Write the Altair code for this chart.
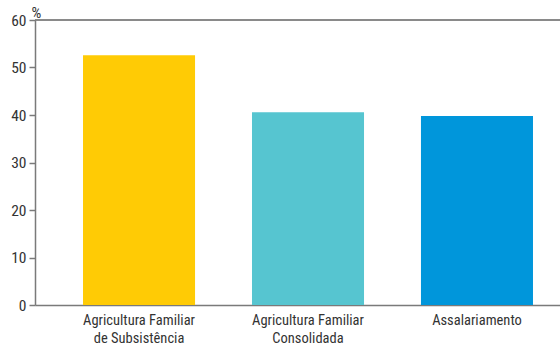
import altair as alt
import pandas as pd

categories = ["Agricultura Familiar|de Subsistência", "Agricultura Familiar|Consolidada", "Assalariamento"]
values = [52.6, 40.6, 39.8]
colors = ["#FFCB05", "#56C5D0", "#0096DB"]

df = pd.DataFrame({"cat": categories, "val": values, "color": colors})

FONT = "Roboto Condensed, Liberation Sans Narrow, Arial Narrow, Roboto"
GRAY = "#7a7a7a"

bars = alt.Chart(df).mark_bar().encode(
    x=alt.X("cat:N", sort=categories,
            scale=alt.Scale(paddingInner=0.337, paddingOuter=0.222, align=0.64),
            axis=alt.Axis(title=None, labelAngle=0, ticks=False,
                          labelExpr="split(datum.value, '|')",
                          labelFont=FONT, labelFontSize=14.5, labelColor="#333333",
                          labelPadding=8, labelLineHeight=18,
                          domainColor=GRAY, domainWidth=1.5)),
    y=alt.Y("val:Q", scale=alt.Scale(domain=[0, 60], nice=False),
            axis=alt.Axis(values=[0, 10, 20, 30, 40, 50, 60], grid=False,
                          title="%", titleAngle=0, titleAlign="center",
                          titleBaseline="alphabetic", titleX=1, titleY=-3,
                          titleFont=FONT, titleFontSize=15.5, titleFontWeight="normal",
                          titleColor="#333333",
                          labelFont=FONT, labelFontSize=15.5, labelColor="#333333",
                          labelPadding=3, tickSize=6, tickColor=GRAY, tickWidth=1.5,
                          domainColor=GRAY, domainWidth=1.5)),
    color=alt.Color("color:N", scale=None),
)

top = alt.Chart(df).mark_rule(color=GRAY, strokeWidth=1.2).encode(
    y=alt.datum(60)
)

chart = alt.layer(bars, top).properties(
    width=525, height=285,
    padding={"left": 35, "top": 20, "right": 0, "bottom": 40},
    autosize=alt.AutoSizeParams(type="none"),
).configure_view(stroke=None)

chart.save("out.html", embed_options={"renderer": "svg", "actions": False})
